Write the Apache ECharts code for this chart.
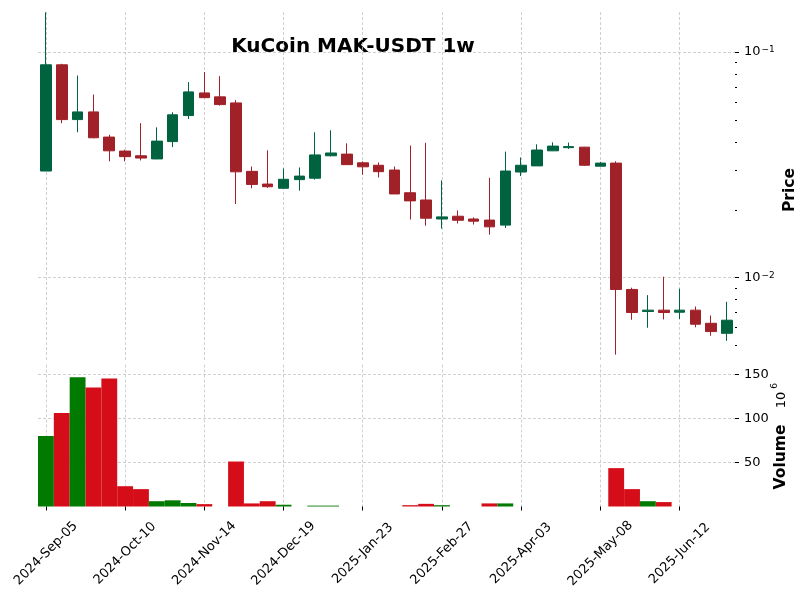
<!DOCTYPE html>
<html><head><meta charset="utf-8">
<script src="https://cdn.jsdelivr.net/npm/echarts@6/dist/echarts.min.js"></script>
<style>html,body{margin:0;padding:0;background:#fff}#c{width:810px;height:600px}</style>
</head><body><div id="c"></div>
<script>
// Weekly candles (KuCoin MAK-USDT 1w)
const dates = [
 '2024-Sep-05','2024-Sep-12','2024-Sep-19','2024-Sep-26','2024-Oct-03','2024-Oct-10','2024-Oct-17','2024-Oct-24','2024-Oct-31','2024-Nov-07',
 '2024-Nov-14','2024-Nov-21','2024-Nov-28','2024-Dec-05','2024-Dec-12','2024-Dec-19','2024-Dec-26','2025-Jan-02','2025-Jan-09','2025-Jan-16',
 '2025-Jan-23','2025-Jan-30','2025-Feb-06','2025-Feb-13','2025-Feb-20','2025-Feb-27','2025-Mar-06','2025-Mar-13','2025-Mar-20','2025-Mar-27',
 '2025-Apr-03','2025-Apr-10','2025-Apr-17','2025-Apr-24','2025-May-01','2025-May-08','2025-May-15','2025-May-22','2025-May-29','2025-Jun-05',
 '2025-Jun-12','2025-Jun-19','2025-Jun-26','2025-Jul-03'];
const opens = [0.0297,0.0878,0.0502,0.0543,0.0420,0.0364,0.0347,0.0336,0.0401,0.0523,
 0.0659,0.0633,0.0595,0.0296,0.0260,0.0249,0.0272,0.0276,0.0347,0.0353,
 0.0323,0.0315,0.0300,0.0238,0.0221,0.0182,0.01872,0.0182,0.0180,0.0171,
 0.0294,0.0313,0.0365,0.0377,0.0379,0.0312,0.0322,0.00887,0.00708,0.00718,
 0.00703,0.00718,0.00628,0.00567];
const highs = [0.1500,0.0887,0.0787,0.0648,0.0430,0.0369,0.0484,0.0464,0.0541,0.0736,
 0.0815,0.0782,0.0612,0.0311,0.0367,0.0305,0.0308,0.0441,0.0450,0.0394,
 0.0328,0.0324,0.0311,0.0385,0.0396,0.0270,0.01985,0.0185,0.0277,0.0362,
 0.0341,0.0390,0.0398,0.0397,0.0380,0.0326,0.0328,0.00903,0.00837,0.0101,
 0.00894,0.00745,0.0068,0.00782];
const lows = [0.0297,0.0484,0.0441,0.0415,0.0328,0.0328,0.0331,0.0335,0.0379,0.0505,
 0.0626,0.0579,0.0212,0.0249,0.0250,0.0249,0.0243,0.0272,0.0345,0.0317,
 0.0286,0.0278,0.0235,0.0181,0.0170,0.0165,0.01738,0.0172,0.0155,0.0166,
 0.0282,0.0313,0.0364,0.0372,0.0313,0.0312,0.00456,0.00651,0.00600,0.00653,
 0.00656,0.00603,0.00553,0.00525];
const closes = [0.0878,0.0502,0.0543,0.0417,0.0365,0.0344,0.0339,0.0403,0.0527,0.0666,
 0.0628,0.0585,0.02946,0.0259,0.0253,0.0273,0.0282,0.0350,0.0357,0.0317,
 0.0310,0.0295,0.0235,0.0219,0.01835,0.0186,0.01797,0.0178,0.0168,0.0297,
 0.0315,0.0368,0.0383,0.0381,0.0315,0.0322,0.00887,0.00701,0.00718,0.00701,
 0.00718,0.00622,0.00577,0.00648];
// volume in millions (axis offset 10^6); 0 = too small to see
const volumes = [80,106,146.5,135,145,23,19.7,6,7,4,
 2.7,0,51,3.5,6,2,0,1,1,0,
 0,0,0,1.5,3,1.5,0,0,3.5,3.5,
 0,0,0,0,0,0,43.5,19.7,6,5,
 0,0,0,0];
const priceMajorTicks = [0.01, 0.1];
const priceMinorTicks = [0.005,0.006,0.007,0.008,0.009,0.02,0.03,0.04,0.05,0.06,0.07,0.08,0.09];
const volumeTicks = [50, 100, 150];

const UP = '#006340', DOWN = '#a02128', VUP = '#007a00', VDOWN = '#d50d18';
const FONT = '"DejaVu Sans", sans-serif';
const GRID = { color: '#c4c4c4', type: [3, 2], width: 0.8 };
const PMIN = 0.00423, PMAX = 0.1505;

const chart = echarts.init(document.getElementById('c'), null, { renderer: 'canvas' });
const candleData = opens.map((o, i) => [o, closes[i], lows[i], highs[i]]);

const option = {
  animation: false,
  backgroundColor: '#fff',
  grid: [
    { left: 38, right: 75, top: 12, height: 350 },
    { left: 38, right: 75, top: 364.5, height: 142 }
  ],
  xAxis: [
    { type: 'category', gridIndex: 0, data: dates, boundaryGap: true,
      axisLine: { show: false }, axisTick: { show: false }, axisLabel: { show: false },
      splitLine: { show: true, interval: 4, alignWithLabel: true, lineStyle: GRID } },
    { type: 'category', gridIndex: 1, data: dates, boundaryGap: true,
      axisLine: { show: false },
      axisTick: { show: true, interval: 4, alignWithLabel: true, length: 4, lineStyle: { color: '#000' } },
      axisLabel: { interval: 4, rotate: 45, align: 'center', verticalAlign: 'middle', margin: 47,
        fontSize: 13, fontFamily: FONT, color: '#000' },
      splitLine: { show: true, interval: 4, alignWithLabel: true, lineStyle: GRID } }
  ],
  yAxis: [
    { type: 'log', gridIndex: 0, position: 'right', min: PMIN, max: PMAX,
      axisLine: { show: false },
      axisTick: { show: true, customValues: priceMajorTicks, length: 4, lineStyle: { color: '#000' } },
      axisLabel: { customValues: priceMajorTicks, margin: 9, color: '#000', fontFamily: FONT,
        formatter: v => '{n|10}{s|\u2212' + Math.round(-Math.log10(v)) + '}',
        rich: {
          n: { fontSize: 13, fontFamily: FONT, color: '#000', verticalAlign: 'bottom', lineHeight: 13 },
          s: { fontSize: 9, fontFamily: FONT, color: '#000', verticalAlign: 'top', lineHeight: 9, padding: [0, 0, 8, 1] }
        } },
      splitLine: { show: true, lineStyle: GRID } },
    { type: 'log', gridIndex: 0, position: 'right', min: PMIN, max: PMAX,
      axisLine: { show: false },
      axisTick: { show: true, customValues: priceMinorTicks, length: 2, lineStyle: { color: '#000' } },
      axisLabel: { show: false }, splitLine: { show: false } },
    { type: 'value', gridIndex: 1, position: 'right', min: 0, max: 161,
      axisLine: { show: false },
      axisTick: { show: true, customValues: volumeTicks, length: 4, lineStyle: { color: '#000' } },
      axisLabel: { customValues: volumeTicks, margin: 9, fontSize: 13, fontFamily: FONT, color: '#000' },
      splitLine: { show: true, lineStyle: GRID } }
  ],
  series: [
    { type: 'candlestick', xAxisIndex: 0, yAxisIndex: 0, data: candleData, barWidth: '70%', clip: true,
      itemStyle: { color: UP, color0: DOWN, borderColor: UP, borderColor0: DOWN, borderWidth: 1 } },
    { type: 'bar', xAxisIndex: 1, yAxisIndex: 2, data: volumes, barWidth: '100%', barCategoryGap: 0,
      itemStyle: { color: p => closes[p.dataIndex] >= opens[p.dataIndex] ? VUP : VDOWN } }
  ],
  graphic: [
    { type: 'text', x: 353, y: 47,
      style: { text: 'KuCoin MAK-USDT 1w', font: 'bold 20px "DejaVu Sans"', fill: '#000',
        align: 'center', verticalAlign: 'middle', textAlign: 'center', textVerticalAlign: 'middle' } },
    { type: 'text', x: 790, y: 190, rotation: Math.PI / 2,
      style: { text: 'Price', font: 'bold 15.5px "DejaVu Sans"', fill: '#000',
        align: 'center', verticalAlign: 'middle', textAlign: 'center', textVerticalAlign: 'middle' } },
    { type: 'text', x: 781, y: 457, rotation: Math.PI / 2,
      style: { text: 'Volume', font: 'bold 15.5px "DejaVu Sans"', fill: '#000',
        align: 'center', verticalAlign: 'middle', textAlign: 'center', textVerticalAlign: 'middle' } },
    { type: 'text', x: 782, y: 400, rotation: Math.PI / 2,
      style: { text: '10', font: '13px "DejaVu Sans"', fill: '#000',
        align: 'center', verticalAlign: 'middle', textAlign: 'center', textVerticalAlign: 'middle' } },
    { type: 'text', x: 775, y: 386, rotation: Math.PI / 2,
      style: { text: '6', font: '9px "DejaVu Sans"', fill: '#000',
        align: 'center', verticalAlign: 'middle', textAlign: 'center', textVerticalAlign: 'middle' } }
  ]
};
chart.setOption(option);
</script></body></html>
